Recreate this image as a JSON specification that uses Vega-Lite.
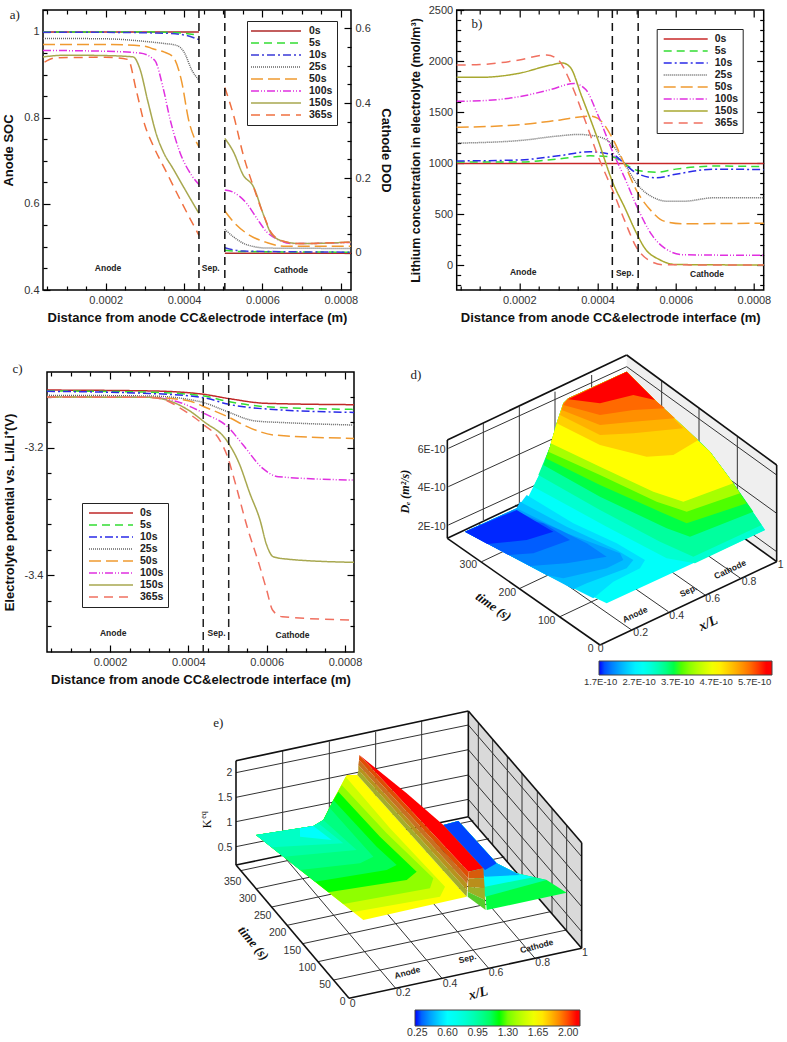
{"$schema":"https://vega.github.io/schema/vega-lite/v6.json","background":"white","padding":{"left":1,"top":3,"right":0,"bottom":0},"spacing":20,"resolve":{"scale":{"color":"independent","strokeDash":"independent","fill":"independent"},"legend":{"color":"independent","strokeDash":"independent","fill":"independent"}},
"config":{"view":{"stroke":null},"axis":{"domain":false,"grid":false,"labelFont":"Liberation Sans","labelFontSize":11,"labelColor":"#333","tickColor":"#000","tickWidth":1.2,"titleFont":"Liberation Sans","titleFontWeight":"bold","titleFontSize":13,"titleColor":"#111","labelPadding":11},"legend":{"labelFont":"Liberation Sans","labelFontWeight":"bold","labelFontSize":10.5,"labelColor":"#222"}},
"vconcat":[
{"resolve":{"scale":{"color":"independent","strokeDash":"independent"},"legend":{"color":"independent","strokeDash":"independent"}},"hconcat":[
{"width":308,"height":280,"view":{"stroke":"#000","strokeWidth":1.5},"resolve":{"scale":{"y":"independent","x":"independent"},"axis":{"x":"independent","y":"independent"}},"layer":[
{"data":{"values":[
{"s":"0s","x":40,"y":1},{"s":"0s","x":438,"y":1},
{"s":"5s","x":40,"y":1},{"s":"5s","x":300,"y":1},{"s":"5s","x":350,"y":0.999},{"s":"5s","x":400,"y":0.997},{"s":"5s","x":438,"y":0.992},
{"s":"10s","x":40,"y":0.999},{"s":"10s","x":200,"y":0.999},{"s":"10s","x":350,"y":0.997},{"s":"10s","x":400,"y":0.993},{"s":"10s","x":438,"y":0.982},
{"s":"25s","x":40,"y":0.985},{"s":"25s","x":200,"y":0.984},{"s":"25s","x":300,"y":0.978},{"s":"25s","x":350,"y":0.973},{"s":"25s","x":380,"y":0.969},{"s":"25s","x":400,"y":0.953},{"s":"25s","x":420,"y":0.911},{"s":"25s","x":438,"y":0.888},
{"s":"50s","x":40,"y":0.971},{"s":"50s","x":200,"y":0.971},{"s":"50s","x":300,"y":0.967},{"s":"50s","x":320,"y":0.961},{"s":"50s","x":350,"y":0.953},{"s":"50s","x":372,"y":0.942},{"s":"50s","x":394,"y":0.884},{"s":"50s","x":411,"y":0.798},{"s":"50s","x":438,"y":0.733},
{"s":"100s","x":40,"y":0.957},{"s":"100s","x":200,"y":0.955},{"s":"100s","x":287,"y":0.951},{"s":"100s","x":325,"y":0.934},{"s":"100s","x":347,"y":0.868},{"s":"100s","x":364,"y":0.798},{"s":"100s","x":389,"y":0.721},{"s":"100s","x":419,"y":0.667},{"s":"100s","x":438,"y":0.645},
{"s":"150s","x":40,"y":0.942},{"s":"150s","x":100,"y":0.946},{"s":"150s","x":200,"y":0.945},{"s":"150s","x":270,"y":0.942},{"s":"150s","x":287,"y":0.915},{"s":"150s","x":308,"y":0.837},{"s":"150s","x":330,"y":0.76},{"s":"150s","x":347,"y":0.721},{"s":"150s","x":372,"y":0.682},{"s":"150s","x":406,"y":0.628},{"s":"150s","x":438,"y":0.578},
{"s":"365s","x":44,"y":0.93},{"s":"365s","x":74,"y":0.94},{"s":"365s","x":200,"y":0.941},{"s":"365s","x":257,"y":0.936},{"s":"365s","x":278,"y":0.864},{"s":"365s","x":300,"y":0.783},{"s":"365s","x":321,"y":0.736},{"s":"365s","x":355,"y":0.674},{"s":"365s","x":389,"y":0.612},{"s":"365s","x":438,"y":0.527}
]},"mark":{"type":"line","strokeWidth":1.5,"interpolate":"monotone"},"encoding":{
"x":{"field":"x","type":"quantitative","scale":{"domain":[40,826],"nice":false},"axis":{"orient":"bottom","values":[200,400,600,800],"labelExpr":"format(datum.value/1000000,'.4f')","tickSize":-7,"title":"Distance from anode CC&electrode interface (m)","titlePadding":6}},
"y":{"field":"y","type":"quantitative","scale":{"domain":[0.4,1.051],"nice":false,"zero":false},"axis":{"orient":"left","values":[0.4,0.6,0.8,1],"format":"~g","tickSize":-7,"title":"Anode SOC","titlePadding":8}},
"color":{"field":"s","type":"nominal","scale":{"domain":["0s","5s","10s","25s","50s","100s","150s","365s"],"range":["#b02a2a","#33dd33","#3a3ad8","#666666","#f09a30","#e030e0","#a8a850","#f07040"]},"legend":{"orient":"none","legendX":204,"legendY":11,"title":null,"symbolType":"M-5,0H5","symbolSize":100,"symbolStrokeWidth":1.5,"symbolOffset":19,"fillColor":"white","strokeColor":"#222","padding":4,"rowPadding":0,"labelOffset":27}},
"strokeDash":{"field":"s","type":"nominal","scale":{"domain":["0s","5s","10s","25s","50s","100s","150s","365s"],"range":[[1,0],[8,5],[8,3,2,3],[1,1],[12,5],[8,2,1,2,1,2],[1,0],[9,6]]},"legend":{"orient":"none","legendX":204,"legendY":11,"title":null,"symbolType":"M-5,0H5","symbolSize":100,"symbolStrokeWidth":1.5,"symbolOffset":19,"fillColor":"white","strokeColor":"#222","padding":4,"rowPadding":0,"labelOffset":27}}}},
{"data":{"values":[
{"s":"0s","x":504,"y":-0.001},{"s":"0s","x":826,"y":-0.001},
{"s":"5s","x":504,"y":0.007},{"s":"5s","x":543,"y":0.004},{"s":"5s","x":826,"y":0.002},
{"s":"10s","x":504,"y":0.014},{"s":"10s","x":551,"y":0.005},{"s":"10s","x":826,"y":0.002},
{"s":"25s","x":504,"y":0.063},{"s":"25s","x":526,"y":0.043},{"s":"25s","x":560,"y":0.022},{"s":"25s","x":611,"y":0.013},{"s":"25s","x":826,"y":0.012},
{"s":"50s","x":504,"y":0.112},{"s":"50s","x":526,"y":0.083},{"s":"50s","x":560,"y":0.052},{"s":"50s","x":611,"y":0.028},{"s":"50s","x":654,"y":0.018},{"s":"50s","x":826,"y":0.018},
{"s":"100s","x":504,"y":0.168},{"s":"100s","x":526,"y":0.162},{"s":"100s","x":560,"y":0.132},{"s":"100s","x":586,"y":0.092},{"s":"100s","x":611,"y":0.056},{"s":"100s","x":637,"y":0.037},{"s":"100s","x":679,"y":0.025},{"s":"100s","x":826,"y":0.028},
{"s":"150s","x":504,"y":0.306},{"s":"150s","x":526,"y":0.27},{"s":"150s","x":551,"y":0.208},{"s":"150s","x":577,"y":0.177},{"s":"150s","x":603,"y":0.101},{"s":"150s","x":624,"y":0.049},{"s":"150s","x":654,"y":0.031},{"s":"150s","x":696,"y":0.025},{"s":"150s","x":826,"y":0.029},
{"s":"365s","x":504,"y":0.442},{"s":"365s","x":526,"y":0.369},{"s":"365s","x":551,"y":0.262},{"s":"365s","x":577,"y":0.177},{"s":"365s","x":603,"y":0.101},{"s":"365s","x":624,"y":0.052},{"s":"365s","x":654,"y":0.031},{"s":"365s","x":696,"y":0.025},{"s":"365s","x":826,"y":0.029}
]},"mark":{"type":"line","strokeWidth":1.5,"interpolate":"monotone"},"encoding":{
"x":{"field":"x","type":"quantitative","scale":{"domain":[40,826],"nice":false},"axis":{"orient":"top","labels":false,"title":null,"values":[200,400,600,800],"tickSize":-7}},
"y":{"field":"y","type":"quantitative","scale":{"domain":[-0.099,0.649],"nice":false,"zero":false},"axis":{"orient":"right","values":[0,0.2,0.4,0.6],"format":"~g","tickSize":-7,"title":"Cathode DOD","titlePadding":8}},
"color":{"field":"s","type":"nominal","legend":null},"strokeDash":{"field":"s","type":"nominal","legend":null}}},
{"data":{"values":[{"x":100,"y":0.5}]},"mark":{"type":"point","opacity":0},"encoding":{
"x":{"field":"x","type":"quantitative","scale":{"domain":[40,826],"nice":false},"axis":{"orient":"bottom","labels":false,"title":null,"values":[50,100,150,250,300,350,450,500,550,650,700,750],"tickSize":-4}},
"y":{"field":"y","type":"quantitative","scale":{"domain":[0.4,1.051],"nice":false,"zero":false},"axis":{"orient":"left","labels":false,"title":null,"values":[0.45,0.5,0.55,0.65,0.7,0.75,0.85,0.9,0.95,1.05],"tickSize":-4}}}},
{"data":{"values":[{"x":100,"y":0.1}]},"mark":{"type":"point","opacity":0},"encoding":{
"x":{"field":"x","type":"quantitative","scale":{"domain":[40,826],"nice":false},"axis":{"orient":"top","labels":false,"title":null,"values":[50,100,150,250,300,350,450,500,550,650,700,750],"tickSize":-4}},
"y":{"field":"y","type":"quantitative","scale":{"domain":[-0.099,0.649],"nice":false,"zero":false},"axis":{"orient":"right","labels":false,"title":null,"values":[-0.05,0.05,0.1,0.15,0.25,0.3,0.35,0.45,0.5,0.55],"tickSize":-4}}}},
{"data":{"values":[{"x":438},{"x":504}]},"mark":{"type":"rule","color":"#111","strokeDash":[8,5],"strokeWidth":1.5},"encoding":{"x":{"field":"x","type":"quantitative","axis":null,"scale":{"domain":[40,826],"nice":false}}}},
{"data":{"values":[{"x":206,"y":0.452,"t":"Anode"},{"x":468,"y":0.452,"t":"Sep."},{"x":673,"y":0.446,"t":"Cathode"}]},"mark":{"type":"text","font":"Liberation Sans","fontWeight":"bold","fontSize":8.5,"color":"#222"},"encoding":{"x":{"field":"x","type":"quantitative","axis":null,"scale":{"domain":[40,826],"nice":false}},"y":{"field":"y","type":"quantitative","axis":null,"scale":{"domain":[0.4,1.051],"nice":false,"zero":false}},"text":{"field":"t"}}},
{"data":{"values":[{"x":-32,"y":1.04,"t":"a)"}]},"mark":{"type":"text","font":"Liberation Serif","fontSize":13,"color":"#222"},"encoding":{"x":{"field":"x","type":"quantitative","axis":null,"scale":{"domain":[40,826],"nice":false}},"y":{"field":"y","type":"quantitative","axis":null,"scale":{"domain":[0.4,1.051],"nice":false,"zero":false}},"text":{"field":"t"}}},
{"data":{"values":[{"x":100,"y":0.3093}]},"mark":{"type":"point","opacity":0,"size":1},"encoding":{"x":{"field":"x","type":"quantitative","axis":null,"scale":{"domain":[40,826],"nice":false}},"y":{"field":"y","type":"quantitative","axis":null,"scale":{"domain":[0.4,1.051],"nice":false,"zero":false}}}}
]},
{"width":307,"height":280,"view":{"stroke":"#000","strokeWidth":1.5},"resolve":{"scale":{"y":"independent","x":"independent"},"axis":{"x":"independent","y":"independent"}},"layer":[
{"data":{"values":[
{"s":"0s","x":40,"y":995},{"s":"0s","x":825,"y":995},
{"s":"5s","x":40,"y":1010},{"s":"5s","x":200,"y":1010},{"s":"5s","x":300,"y":1040},{"s":"5s","x":380,"y":1070},{"s":"5s","x":440,"y":1060},{"s":"5s","x":470,"y":990},{"s":"5s","x":500,"y":930},{"s":"5s","x":550,"y":910},{"s":"5s","x":600,"y":940},{"s":"5s","x":700,"y":970},{"s":"5s","x":825,"y":965},
{"s":"10s","x":40,"y":1020},{"s":"10s","x":200,"y":1030},{"s":"10s","x":300,"y":1070},{"s":"10s","x":380,"y":1110},{"s":"10s","x":440,"y":1080},{"s":"10s","x":470,"y":990},{"s":"10s","x":500,"y":900},{"s":"10s","x":550,"y":855},{"s":"10s","x":600,"y":890},{"s":"10s","x":700,"y":940},{"s":"10s","x":825,"y":935},
{"s":"25s","x":40,"y":1195},{"s":"25s","x":200,"y":1220},{"s":"25s","x":300,"y":1265},{"s":"25s","x":350,"y":1280},{"s":"25s","x":400,"y":1260},{"s":"25s","x":440,"y":1170},{"s":"25s","x":470,"y":990},{"s":"25s","x":500,"y":800},{"s":"25s","x":550,"y":650},{"s":"25s","x":580,"y":625},{"s":"25s","x":620,"y":625},{"s":"25s","x":700,"y":660},{"s":"25s","x":825,"y":660},
{"s":"50s","x":40,"y":1350},{"s":"50s","x":200,"y":1375},{"s":"50s","x":300,"y":1420},{"s":"50s","x":380,"y":1460},{"s":"50s","x":400,"y":1440},{"s":"50s","x":440,"y":1230},{"s":"50s","x":470,"y":980},{"s":"50s","x":500,"y":730},{"s":"50s","x":540,"y":520},{"s":"50s","x":570,"y":430},{"s":"50s","x":620,"y":405},{"s":"50s","x":825,"y":410},
{"s":"100s","x":40,"y":1605},{"s":"100s","x":100,"y":1610},{"s":"100s","x":200,"y":1650},{"s":"100s","x":280,"y":1720},{"s":"100s","x":340,"y":1780},{"s":"100s","x":370,"y":1720},{"s":"100s","x":400,"y":1480},{"s":"100s","x":440,"y":1100},{"s":"100s","x":470,"y":850},{"s":"100s","x":500,"y":580},{"s":"100s","x":540,"y":290},{"s":"100s","x":570,"y":170},{"s":"100s","x":620,"y":100},{"s":"100s","x":825,"y":95},
{"s":"150s","x":40,"y":1840},{"s":"150s","x":100,"y":1840},{"s":"150s","x":200,"y":1880},{"s":"150s","x":280,"y":1960},{"s":"150s","x":310,"y":1980},{"s":"150s","x":330,"y":1940},{"s":"150s","x":360,"y":1650},{"s":"150s","x":400,"y":1240},{"s":"150s","x":440,"y":800},{"s":"150s","x":470,"y":560},{"s":"150s","x":500,"y":310},{"s":"150s","x":520,"y":170},{"s":"150s","x":560,"y":50},{"s":"150s","x":600,"y":5},{"s":"150s","x":825,"y":0},
{"s":"365s","x":40,"y":1960},{"s":"365s","x":100,"y":1965},{"s":"365s","x":200,"y":2010},{"s":"365s","x":270,"y":2060},{"s":"365s","x":300,"y":2010},{"s":"365s","x":330,"y":1800},{"s":"365s","x":370,"y":1400},{"s":"365s","x":400,"y":1080},{"s":"365s","x":440,"y":720},{"s":"365s","x":470,"y":430},{"s":"365s","x":500,"y":170},{"s":"365s","x":530,"y":50},{"s":"365s","x":570,"y":2},{"s":"365s","x":825,"y":0}
]},"mark":{"type":"line","strokeWidth":1.5,"interpolate":"monotone"},"encoding":{
"x":{"field":"x","type":"quantitative","scale":{"domain":[40,825],"nice":false},"axis":{"orient":"bottom","values":[200,400,600,800],"labelExpr":"format(datum.value/1000000,'.4f')","tickSize":-7,"title":"Distance from anode CC&electrode interface (m)","titlePadding":6}},
"y":{"field":"y","type":"quantitative","scale":{"domain":[-245,2500],"nice":false,"zero":false},"axis":{"orient":"left","values":[0,500,1000,1500,2000,2500],"format":"d","tickSize":-7,"title":"Lithium concentration in electrolyte (mol/m³)","titleFontSize":12.5,"titlePadding":6}},
"color":{"field":"s","type":"nominal","scale":{"domain":["0s","5s","10s","25s","50s","100s","150s","365s"],"range":["#c82828","#33dd33","#2a2ae8","#666666","#f09a30","#e030e0","#a8a830","#f07060"]},"legend":{"orient":"none","legendX":200,"legendY":19,"title":null,"symbolType":"M-4.4,0H4.4","symbolSize":100,"symbolStrokeWidth":1.5,"symbolOffset":19,"fillColor":"white","strokeColor":"#222","padding":4,"rowPadding":0,"labelOffset":23}},
"strokeDash":{"field":"s","type":"nominal","scale":{"domain":["0s","5s","10s","25s","50s","100s","150s","365s"],"range":[[1,0],[8,5],[8,3,2,3],[1,1],[12,5],[8,2,1,2,1,2],[1,0],[9,6]]},"legend":{"orient":"none","legendX":200,"legendY":19,"title":null,"symbolType":"M-4.4,0H4.4","symbolSize":100,"symbolStrokeWidth":1.5,"symbolOffset":19,"fillColor":"white","strokeColor":"#222","padding":4,"rowPadding":0,"labelOffset":23}}}},
{"data":{"values":[{"x":100,"y":100}]},"mark":{"type":"point","opacity":0},"encoding":{
"x":{"field":"x","type":"quantitative","scale":{"domain":[40,825],"nice":false},"axis":{"orient":"top","labels":false,"title":null,"values":[200,400,600,800],"tickSize":-7}},
"y":{"field":"y","type":"quantitative","scale":{"domain":[-245,2500],"nice":false,"zero":false},"axis":{"orient":"right","labels":false,"title":null,"values":[0,500,1000,1500,2000],"tickSize":-7}}}},
{"data":{"values":[{"x":100,"y":100}]},"mark":{"type":"point","opacity":0},"encoding":{
"x":{"field":"x","type":"quantitative","scale":{"domain":[40,825],"nice":false},"axis":{"orient":"bottom","labels":false,"title":null,"values":[50,100,150,250,300,350,450,500,550,650,700,750],"tickSize":-4}},
"y":{"field":"y","type":"quantitative","scale":{"domain":[-245,2500],"nice":false,"zero":false},"axis":{"orient":"left","labels":false,"title":null,"values":[-200,-100,100,200,300,400,600,700,800,900,1100,1200,1300,1400,1600,1700,1800,1900,2100,2200,2300,2400],"tickSize":-4}}}},
{"data":{"values":[{"x":100,"y":100}]},"mark":{"type":"point","opacity":0},"encoding":{
"x":{"field":"x","type":"quantitative","scale":{"domain":[40,825],"nice":false},"axis":{"orient":"top","labels":false,"title":null,"values":[50,100,150,250,300,350,450,500,550,650,700,750],"tickSize":-4}},
"y":{"field":"y","type":"quantitative","scale":{"domain":[-245,2500],"nice":false,"zero":false},"axis":{"orient":"right","labels":false,"title":null,"values":[-200,-100,100,200,300,400,600,700,800,900,1100,1200,1300,1400,1600,1700,1800,1900,2100,2200,2300,2400],"tickSize":-4}}}},
{"data":{"values":[{"x":438},{"x":504}]},"mark":{"type":"rule","color":"#111","strokeDash":[8,5],"strokeWidth":1.5},"encoding":{"x":{"field":"x","type":"quantitative","axis":null,"scale":{"domain":[40,825],"nice":false}}}},
{"data":{"values":[{"x":210,"y":-70,"t":"Anode"},{"x":470,"y":-80,"t":"Sep."},{"x":680,"y":-90,"t":"Cathode"}]},"mark":{"type":"text","font":"Liberation Sans","fontWeight":"bold","fontSize":8.5,"color":"#222"},"encoding":{"x":{"field":"x","type":"quantitative","axis":null,"scale":{"domain":[40,825],"nice":false}},"y":{"field":"y","type":"quantitative","axis":null,"scale":{"domain":[-245,2500],"nice":false,"zero":false}},"text":{"field":"t"}}},
{"data":{"values":[{"x":92,"y":2365,"t":"b)"}]},"mark":{"type":"text","font":"Liberation Serif","fontSize":13,"color":"#222"},"encoding":{"x":{"field":"x","type":"quantitative","axis":null,"scale":{"domain":[40,825],"nice":false}},"y":{"field":"y","type":"quantitative","axis":null,"scale":{"domain":[-245,2500],"nice":false,"zero":false}},"text":{"field":"t"}}}
]}
],"bounds":"flush","spacing":105.7},
{"resolve":{"scale":{"color":"independent","strokeDash":"independent","fill":"independent"},"legend":{"color":"independent","strokeDash":"independent","fill":"independent"}},"hconcat":[
{"width":4,"height":280,"data":{"values":[{"a":1}]},"mark":{"type":"point","opacity":0}},
{"resolve":{"scale":{"color":"independent","strokeDash":"independent","fill":"independent"},"legend":{"color":"independent","strokeDash":"independent","fill":"independent"}},"hconcat":[
{"width":307,"height":280,"view":{"stroke":"#000","strokeWidth":1.5},"resolve":{"scale":{"y":"independent","x":"independent"},"axis":{"x":"independent","y":"independent"}},"layer":[
{"data":{"values":[
{"s":"0s","x":39,"y":-3.1097},{"s":"0s","x":300,"y":-3.111},{"s":"0s","x":440,"y":-3.1164},{"s":"0s","x":500,"y":-3.1227},{"s":"0s","x":600,"y":-3.1305},{"s":"0s","x":823,"y":-3.1326},
{"s":"5s","x":39,"y":-3.111},{"s":"5s","x":300,"y":-3.113},{"s":"5s","x":440,"y":-3.119},{"s":"5s","x":500,"y":-3.1274},{"s":"5s","x":600,"y":-3.1358},{"s":"5s","x":823,"y":-3.14},
{"s":"10s","x":39,"y":-3.1117},{"s":"10s","x":300,"y":-3.115},{"s":"10s","x":440,"y":-3.1217},{"s":"10s","x":500,"y":-3.1316},{"s":"10s","x":600,"y":-3.1394},{"s":"10s","x":823,"y":-3.1447},
{"s":"25s","x":39,"y":-3.118},{"s":"25s","x":300,"y":-3.119},{"s":"25s","x":400,"y":-3.1243},{"s":"25s","x":440,"y":-3.1295},{"s":"25s","x":500,"y":-3.1436},{"s":"25s","x":570,"y":-3.158},{"s":"25s","x":650,"y":-3.1608},{"s":"25s","x":823,"y":-3.1645},
{"s":"50s","x":39,"y":-3.1206},{"s":"50s","x":300,"y":-3.1211},{"s":"50s","x":400,"y":-3.1264},{"s":"50s","x":440,"y":-3.1358},{"s":"50s","x":500,"y":-3.1514},{"s":"50s","x":560,"y":-3.1697},{"s":"50s","x":620,"y":-3.1802},{"s":"50s","x":823,"y":-3.1854},
{"s":"100s","x":39,"y":-3.1206},{"s":"100s","x":300,"y":-3.1211},{"s":"100s","x":380,"y":-3.1295},{"s":"100s","x":440,"y":-3.1462},{"s":"100s","x":500,"y":-3.1671},{"s":"100s","x":540,"y":-3.1958},{"s":"100s","x":590,"y":-3.2324},{"s":"100s","x":630,"y":-3.2454},{"s":"100s","x":823,"y":-3.2507},
{"s":"150s","x":39,"y":-3.1206},{"s":"150s","x":300,"y":-3.1211},{"s":"150s","x":350,"y":-3.1264},{"s":"150s","x":400,"y":-3.141},{"s":"150s","x":440,"y":-3.1593},{"s":"150s","x":500,"y":-3.1906},{"s":"150s","x":530,"y":-3.225},{"s":"150s","x":557,"y":-3.2715},{"s":"150s","x":583,"y":-3.3133},{"s":"150s","x":600,"y":-3.3525},{"s":"150s","x":617,"y":-3.3708},{"s":"150s","x":650,"y":-3.3744},{"s":"150s","x":823,"y":-3.3796},
{"s":"365s","x":39,"y":-3.1206},{"s":"365s","x":300,"y":-3.1211},{"s":"365s","x":340,"y":-3.125},{"s":"365s","x":380,"y":-3.1384},{"s":"365s","x":440,"y":-3.1645},{"s":"365s","x":480,"y":-3.188},{"s":"365s","x":500,"y":-3.2141},{"s":"365s","x":520,"y":-3.2559},{"s":"365s","x":550,"y":-3.3238},{"s":"365s","x":580,"y":-3.3812},{"s":"365s","x":600,"y":-3.423},{"s":"365s","x":615,"y":-3.4543},{"s":"365s","x":640,"y":-3.4648},{"s":"365s","x":823,"y":-3.47}
]},"mark":{"type":"line","strokeWidth":1.5,"interpolate":"monotone"},"encoding":{
"x":{"field":"x","type":"quantitative","scale":{"domain":[39,823],"nice":false},"axis":{"orient":"bottom","values":[200,400,600,800],"labelExpr":"format(datum.value/1000000,'.4f')","tickSize":-7,"title":"Distance from anode CC&electrode interface (m)","titlePadding":6}},
"y":{"field":"y","type":"quantitative","scale":{"domain":[-3.52,-3.0814],"nice":false,"zero":false},"axis":{"orient":"left","values":[-3.4,-3.2],"labelExpr":"replace(format(datum.value,'.1f'),'−','-')","tickSize":-7,"title":"Electrolyte potential vs. Li/Li⁺(V)","titlePadding":8}},
"color":{"field":"s","type":"nominal","scale":{"domain":["0s","5s","10s","25s","50s","100s","150s","365s"],"range":["#c02828","#33dd33","#2a2ae8","#666666","#f09a30","#e030e0","#a8a850","#f07060"]},"legend":{"orient":"none","legendX":35,"legendY":131,"title":null,"symbolType":"M-4.4,0H4.4","symbolSize":100,"symbolStrokeWidth":1.5,"symbolOffset":19,"fillColor":"white","strokeColor":"#222","padding":4,"rowPadding":0,"labelOffset":23}},
"strokeDash":{"field":"s","type":"nominal","scale":{"domain":["0s","5s","10s","25s","50s","100s","150s","365s"],"range":[[1,0],[8,5],[8,3,2,3],[1,1],[12,5],[8,2,1,2,1,2],[1,0],[9,6]]},"legend":{"orient":"none","legendX":35,"legendY":131,"title":null,"symbolType":"M-4.4,0H4.4","symbolSize":100,"symbolStrokeWidth":1.5,"symbolOffset":19,"fillColor":"white","strokeColor":"#222","padding":4,"rowPadding":0,"labelOffset":23}}}},
{"data":{"values":[{"x":100,"y":-3.3}]},"mark":{"type":"point","opacity":0},"encoding":{
"x":{"field":"x","type":"quantitative","scale":{"domain":[39,823],"nice":false},"axis":{"orient":"top","labels":false,"title":null,"values":[200,400,600,800],"tickSize":-7}},
"y":{"field":"y","type":"quantitative","scale":{"domain":[-3.52,-3.0814],"nice":false,"zero":false},"axis":{"orient":"right","labels":false,"title":null,"values":[-3.4,-3.2],"tickSize":-7}}}},
{"data":{"values":[{"x":100,"y":-3.3}]},"mark":{"type":"point","opacity":0},"encoding":{
"x":{"field":"x","type":"quantitative","scale":{"domain":[39,823],"nice":false},"axis":{"orient":"bottom","labels":false,"title":null,"values":[50,100,150,250,300,350,450,500,550,650,700,750],"tickSize":-4}},
"y":{"field":"y","type":"quantitative","scale":{"domain":[-3.52,-3.0814],"nice":false,"zero":false},"axis":{"orient":"left","labels":false,"title":null,"values":[-3.48,-3.44,-3.36,-3.32,-3.28,-3.24,-3.16,-3.12],"tickSize":-4}}}},
{"data":{"values":[{"x":100,"y":-3.3}]},"mark":{"type":"point","opacity":0},"encoding":{
"x":{"field":"x","type":"quantitative","scale":{"domain":[39,823],"nice":false},"axis":{"orient":"top","labels":false,"title":null,"values":[50,100,150,250,300,350,450,500,550,650,700,750],"tickSize":-4}},
"y":{"field":"y","type":"quantitative","scale":{"domain":[-3.52,-3.0814],"nice":false,"zero":false},"axis":{"orient":"right","labels":false,"title":null,"values":[-3.48,-3.44,-3.36,-3.32,-3.28,-3.24,-3.16,-3.12],"tickSize":-4}}}},
{"data":{"values":[{"x":438},{"x":503}]},"mark":{"type":"rule","color":"#222","strokeDash":[8,5],"strokeWidth":1.5},"encoding":{"x":{"field":"x","type":"quantitative","axis":null,"scale":{"domain":[39,823],"nice":false}}}},
{"data":{"values":[{"x":208,"y":-3.49,"t":"Anode"},{"x":472,"y":-3.491,"t":"Sep."},{"x":666,"y":-3.493,"t":"Cathode"}]},"mark":{"type":"text","font":"Liberation Sans","fontWeight":"bold","fontSize":8.5,"color":"#222"},"encoding":{"x":{"field":"x","type":"quantitative","axis":null,"scale":{"domain":[39,823],"nice":false}},"y":{"field":"y","type":"quantitative","axis":null,"scale":{"domain":[-3.52,-3.0814],"nice":false,"zero":false}},"text":{"field":"t"}}},
{"data":{"values":[{"x":-36,"y":-3.0765,"t":"c)"}]},"mark":{"type":"text","font":"Liberation Serif","fontSize":13,"color":"#222"},"encoding":{"x":{"field":"x","type":"quantitative","axis":null,"scale":{"domain":[39,823],"nice":false}},"y":{"field":"y","type":"quantitative","axis":null,"scale":{"domain":[-3.52,-3.0814],"nice":false,"zero":false}},"text":{"field":"t"}}}
]},
{"width":387,"height":280,"encoding":{"x":{"field":"u","type":"quantitative","axis":null,"scale":{"domain":[0,1161],"nice":false,"zero":false}},"y":{"field":"v","type":"quantitative","axis":null,"scale":{"domain":[876,36],"nice":false,"zero":false}}},"layer":[
{"data":{"values":[{"i":0,"u":680,"v":-15},{"i":1,"u":1130,"v":315},{"i":2,"u":1130,"v":605},{"i":3,"u":680,"v":280}]},"mark":{"type":"line","fill":"#efefef","strokeWidth":0},"encoding":{"order":{"field":"i"}}},
{"data":{"values":[
{"s":1,"u":250,"v":190},{"s":1,"u":250,"v":480},{"s":2,"u":358,"v":140},{"s":2,"u":358,"v":430},{"s":3,"u":465,"v":95},{"s":3,"u":465,"v":380},{"s":4,"u":575,"v":45},{"s":4,"u":575,"v":330},
{"s":5,"u":785,"v":62},{"s":5,"u":785,"v":360},{"s":6,"u":897,"v":145},{"s":6,"u":897,"v":440},{"s":7,"u":1012,"v":230},{"s":7,"u":1012,"v":520},
{"s":8,"u":145,"v":265},{"s":8,"u":680,"v":20},{"s":9,"u":145,"v":380},{"s":9,"u":680,"v":135},{"s":10,"u":145,"v":495},{"s":10,"u":680,"v":250},
{"s":11,"u":680,"v":20},{"s":11,"u":1130,"v":345},{"s":12,"u":680,"v":135},{"s":12,"u":1130,"v":460},{"s":13,"u":680,"v":250},{"s":13,"u":1130,"v":575},
{"s":14,"u":480,"v":770},{"s":14,"u":1010,"v":520},{"s":15,"u":360,"v":685},{"s":15,"u":890,"v":435},{"s":16,"u":245,"v":605},{"s":16,"u":775,"v":355},
{"s":17,"u":695,"v":810},{"s":17,"u":235,"v":490},{"s":18,"u":805,"v":755},{"s":18,"u":345,"v":435},{"s":19,"u":915,"v":705},{"s":19,"u":455,"v":385},{"s":20,"u":1022,"v":655},{"s":20,"u":562,"v":335}
]},"mark":{"type":"line","color":"#333","strokeWidth":1},"encoding":{"detail":{"field":"s"}}},
{"data":{"values":[
{"s":1,"u":142,"v":240},{"s":1,"u":680,"v":-15},{"s":2,"u":680,"v":-15},{"s":2,"u":1130,"v":315},{"s":3,"u":1130,"v":315},{"s":3,"u":1130,"v":605},{"s":4,"u":142,"v":240},{"s":4,"u":142,"v":535},{"s":5,"u":142,"v":535},{"s":5,"u":600,"v":855},{"s":6,"u":600,"v":855},{"s":6,"u":1130,"v":605},{"s":7,"u":142,"v":535},{"s":7,"u":680,"v":280},{"s":8,"u":1130,"v":605},{"s":8,"u":680,"v":280}
]},"mark":{"type":"line","color":"#111","strokeWidth":1.6},"encoding":{"detail":{"field":"s"}}},
{"data":{"values":[
{"p":"O","i":0,"z":2.75,"u":195,"v":515},{"p":"O","i":1,"z":2.75,"u":350,"v":445},{"p":"O","i":2,"z":2.75,"u":385,"v":410},{"p":"O","i":3,"z":2.75,"u":420,"v":340},{"p":"O","i":4,"z":2.75,"u":450,"v":260},{"p":"O","i":5,"z":2.75,"u":470,"v":190},{"p":"O","i":6,"z":2.75,"u":490,"v":130},{"p":"O","i":7,"z":2.75,"u":505,"v":115},{"p":"O","i":8,"z":2.75,"u":680,"v":35},{"p":"O","i":9,"z":2.75,"u":770,"v":125},{"p":"O","i":10,"z":2.75,"u":895,"v":240},{"p":"O","i":11,"z":2.75,"u":930,"v":275},{"p":"O","i":12,"z":2.75,"u":1000,"v":370},{"p":"O","i":13,"z":2.75,"u":1095,"v":510},{"p":"O","i":14,"z":2.75,"u":620,"v":730},{"p":"O","i":15,"z":2.75,"u":430,"v":640},
{"p":"H1","i":0,"z":3.05,"u":400,"v":380},{"p":"H1","i":1,"z":3.05,"u":620,"v":500},{"p":"H1","i":2,"z":3.05,"u":800,"v":595},{"p":"H1","i":3,"z":3.05,"u":885,"v":610},{"p":"H1","i":4,"z":3.05,"u":1095,"v":510},{"p":"H1","i":5,"z":3.05,"u":1000,"v":370},{"p":"H1","i":6,"z":3.05,"u":930,"v":275},{"p":"H1","i":7,"z":3.05,"u":770,"v":125},{"p":"H1","i":8,"z":3.05,"u":680,"v":35},{"p":"H1","i":9,"z":3.05,"u":505,"v":115},{"p":"H1","i":10,"z":3.05,"u":490,"v":130},{"p":"H1","i":11,"z":3.05,"u":470,"v":190},{"p":"H1","i":12,"z":3.05,"u":450,"v":260},{"p":"H1","i":13,"z":3.05,"u":420,"v":340},
{"p":"H2","i":0,"z":3.3,"u":415,"v":345},{"p":"H2","i":1,"z":3.3,"u":600,"v":450},{"p":"H2","i":2,"z":3.3,"u":780,"v":545},{"p":"H2","i":3,"z":3.3,"u":880,"v":590},{"p":"H2","i":4,"z":3.3,"u":1085,"v":495},{"p":"H2","i":5,"z":3.3,"u":1000,"v":370},{"p":"H2","i":6,"z":3.3,"u":930,"v":275},{"p":"H2","i":7,"z":3.3,"u":770,"v":125},{"p":"H2","i":8,"z":3.3,"u":680,"v":35},{"p":"H2","i":9,"z":3.3,"u":505,"v":115},{"p":"H2","i":10,"z":3.3,"u":490,"v":130},{"p":"H2","i":11,"z":3.3,"u":470,"v":190},{"p":"H2","i":12,"z":3.3,"u":450,"v":260},
{"p":"H3","i":0,"z":3.6,"u":430,"v":315},{"p":"H3","i":1,"z":3.6,"u":600,"v":410},{"p":"H3","i":2,"z":3.6,"u":800,"v":505},{"p":"H3","i":3,"z":3.6,"u":870,"v":530},{"p":"H3","i":4,"z":3.6,"u":1060,"v":455},{"p":"H3","i":5,"z":3.6,"u":1000,"v":370},{"p":"H3","i":6,"z":3.6,"u":930,"v":275},{"p":"H3","i":7,"z":3.6,"u":770,"v":125},{"p":"H3","i":8,"z":3.6,"u":680,"v":35},{"p":"H3","i":9,"z":3.6,"u":505,"v":115},{"p":"H3","i":10,"z":3.6,"u":490,"v":130},{"p":"H3","i":11,"z":3.6,"u":470,"v":190},{"p":"H3","i":12,"z":3.6,"u":450,"v":260},
{"p":"H4","i":0,"z":3.8,"u":437,"v":295},{"p":"H4","i":1,"z":3.8,"u":600,"v":375},{"p":"H4","i":2,"z":3.8,"u":780,"v":455},{"p":"H4","i":3,"z":3.8,"u":860,"v":490},{"p":"H4","i":4,"z":3.8,"u":1040,"v":430},{"p":"H4","i":5,"z":3.8,"u":1000,"v":370},{"p":"H4","i":6,"z":3.8,"u":930,"v":275},{"p":"H4","i":7,"z":3.8,"u":770,"v":125},{"p":"H4","i":8,"z":3.8,"u":680,"v":35},{"p":"H4","i":9,"z":3.8,"u":505,"v":115},{"p":"H4","i":10,"z":3.8,"u":490,"v":130},{"p":"H4","i":11,"z":3.8,"u":470,"v":190},{"p":"H4","i":12,"z":3.8,"u":450,"v":260},
{"p":"H5","i":0,"z":4.15,"u":445,"v":275},{"p":"H5","i":1,"z":4.15,"u":600,"v":345},{"p":"H5","i":2,"z":4.15,"u":770,"v":425},{"p":"H5","i":3,"z":4.15,"u":860,"v":455},{"p":"H5","i":4,"z":4.15,"u":1020,"v":400},{"p":"H5","i":5,"z":4.15,"u":1000,"v":370},{"p":"H5","i":6,"z":4.15,"u":930,"v":275},{"p":"H5","i":7,"z":4.15,"u":770,"v":125},{"p":"H5","i":8,"z":4.15,"u":680,"v":35},{"p":"H5","i":9,"z":4.15,"u":505,"v":115},{"p":"H5","i":10,"z":4.15,"u":490,"v":130},{"p":"H5","i":11,"z":4.15,"u":470,"v":190},{"p":"H5","i":12,"z":4.15,"u":450,"v":260},
{"p":"H6","i":0,"z":4.7,"u":452,"v":250},{"p":"H6","i":1,"z":4.7,"u":600,"v":320},{"p":"H6","i":2,"z":4.7,"u":760,"v":395},{"p":"H6","i":3,"z":4.7,"u":850,"v":425},{"p":"H6","i":4,"z":4.7,"u":1000,"v":370},{"p":"H6","i":5,"z":4.7,"u":930,"v":275},{"p":"H6","i":6,"z":4.7,"u":770,"v":125},{"p":"H6","i":7,"z":4.7,"u":680,"v":35},{"p":"H6","i":8,"z":4.7,"u":505,"v":115},{"p":"H6","i":9,"z":4.7,"u":490,"v":130},{"p":"H6","i":10,"z":4.7,"u":470,"v":190},
{"p":"H7","i":0,"z":5.0,"u":470,"v":190},{"p":"H7","i":1,"z":5.0,"u":600,"v":255},{"p":"H7","i":2,"z":5.0,"u":740,"v":290},{"p":"H7","i":3,"z":5.0,"u":820,"v":285},{"p":"H7","i":4,"z":5.0,"u":895,"v":240},{"p":"H7","i":5,"z":5.0,"u":770,"v":125},{"p":"H7","i":6,"z":5.0,"u":680,"v":35},{"p":"H7","i":7,"z":5.0,"u":505,"v":115},{"p":"H7","i":8,"z":5.0,"u":490,"v":130},
{"p":"H8","i":0,"z":5.2,"u":480,"v":165},{"p":"H8","i":1,"z":5.2,"u":600,"v":225},{"p":"H8","i":2,"z":5.2,"u":700,"v":220},{"p":"H8","i":3,"z":5.2,"u":850,"v":205},{"p":"H8","i":4,"z":5.2,"u":770,"v":125},{"p":"H8","i":5,"z":5.2,"u":680,"v":35},{"p":"H8","i":6,"z":5.2,"u":505,"v":115},{"p":"H8","i":7,"z":5.2,"u":490,"v":130},
{"p":"H9","i":0,"z":5.4,"u":485,"v":150},{"p":"H9","i":1,"z":5.4,"u":600,"v":195},{"p":"H9","i":2,"z":5.4,"u":700,"v":185},{"p":"H9","i":3,"z":5.4,"u":825,"v":175},{"p":"H9","i":4,"z":5.4,"u":770,"v":125},{"p":"H9","i":5,"z":5.4,"u":680,"v":35},{"p":"H9","i":6,"z":5.4,"u":505,"v":115},{"p":"H9","i":7,"z":5.4,"u":490,"v":130},
{"p":"H10","i":0,"z":5.6,"u":490,"v":135},{"p":"H10","i":1,"z":5.6,"u":600,"v":165},{"p":"H10","i":2,"z":5.6,"u":700,"v":150},{"p":"H10","i":3,"z":5.6,"u":795,"v":145},{"p":"H10","i":4,"z":5.6,"u":770,"v":125},{"p":"H10","i":5,"z":5.6,"u":680,"v":35},{"p":"H10","i":6,"z":5.6,"u":505,"v":115},
{"p":"H11","i":0,"z":5.95,"u":505,"v":118},{"p":"H11","i":1,"z":5.95,"u":600,"v":130},{"p":"H11","i":2,"z":5.95,"u":700,"v":105},{"p":"H11","i":3,"z":5.95,"u":765,"v":120},{"p":"H11","i":4,"z":5.95,"u":680,"v":35},
{"p":"L1","i":0,"z":2.5,"u":195,"v":515},{"p":"L1","i":1,"z":2.5,"u":350,"v":445},{"p":"L1","i":2,"z":2.5,"u":380,"v":405},{"p":"L1","i":3,"z":2.5,"u":520,"v":490},{"p":"L1","i":4,"z":2.5,"u":650,"v":550},{"p":"L1","i":5,"z":2.5,"u":735,"v":600},{"p":"L1","i":6,"z":2.5,"u":720,"v":625},{"p":"L1","i":7,"z":2.5,"u":640,"v":665},{"p":"L1","i":8,"z":2.5,"u":580,"v":715},{"p":"L1","i":9,"z":2.5,"u":430,"v":640},
{"p":"L2","i":0,"z":2.3,"u":195,"v":515},{"p":"L2","i":1,"z":2.3,"u":350,"v":445},{"p":"L2","i":2,"z":2.3,"u":360,"v":425},{"p":"L2","i":3,"z":2.3,"u":500,"v":500},{"p":"L2","i":4,"z":2.3,"u":650,"v":570},{"p":"L2","i":5,"z":2.3,"u":700,"v":600},{"p":"L2","i":6,"z":2.3,"u":680,"v":625},{"p":"L2","i":7,"z":2.3,"u":560,"v":670},{"p":"L2","i":8,"z":2.3,"u":520,"v":688},{"p":"L2","i":9,"z":2.3,"u":430,"v":640},
{"p":"L3","i":0,"z":2.15,"u":195,"v":515},{"p":"L3","i":1,"z":2.15,"u":350,"v":445},{"p":"L3","i":2,"z":2.15,"u":500,"v":520},{"p":"L3","i":3,"z":2.15,"u":660,"v":580},{"p":"L3","i":4,"z":2.15,"u":670,"v":600},{"p":"L3","i":5,"z":2.15,"u":620,"v":625},{"p":"L3","i":6,"z":2.15,"u":490,"v":655},{"p":"L3","i":7,"z":2.15,"u":440,"v":645},
{"p":"L4","i":0,"z":2.0,"u":195,"v":515},{"p":"L4","i":1,"z":2.0,"u":340,"v":450},{"p":"L4","i":2,"z":2.0,"u":480,"v":510},{"p":"L4","i":3,"z":2.0,"u":560,"v":550},{"p":"L4","i":4,"z":2.0,"u":620,"v":590},{"p":"L4","i":5,"z":2.0,"u":500,"v":610},{"p":"L4","i":6,"z":2.0,"u":390,"v":618},
{"p":"L5","i":0,"z":1.85,"u":195,"v":515},{"p":"L5","i":1,"z":1.85,"u":310,"v":465},{"p":"L5","i":2,"z":1.85,"u":430,"v":490},{"p":"L5","i":3,"z":1.85,"u":510,"v":540},{"p":"L5","i":4,"z":1.85,"u":400,"v":580},{"p":"L5","i":5,"z":1.85,"u":325,"v":585},
{"p":"L6","i":0,"z":1.7,"u":195,"v":515},{"p":"L6","i":1,"z":1.7,"u":350,"v":450},{"p":"L6","i":2,"z":1.7,"u":400,"v":480},{"p":"L6","i":3,"z":1.7,"u":460,"v":515},{"p":"L6","i":4,"z":1.7,"u":380,"v":540},{"p":"L6","i":5,"z":1.7,"u":262,"v":552}
]},"mark":{"type":"line","strokeWidth":0},"encoding":{"order":{"field":"i"},"detail":{"field":"p"},"fill":{"field":"z","type":"quantitative","scale":{"domain":[1.66,2.7,3.7,4.7,5.9,6.15],"range":["#0000ff","#00ffff","#00ff00","#ffff00","#ff0000","#ff0000"]},"legend":{"type":"gradient","direction":"horizontal","orient":"none","legendX":199,"legendY":289,"title":null,"gradientLength":173,"gradientThickness":14,"gradientStrokeColor":"#444","gradientStrokeWidth":1,"values":[1.7,2.7,3.7,4.7,5.7],"labelExpr":"format(datum.value,'.1f')+'E-10'","labelFontWeight":"normal","labelFontSize":9.5,"labelColor":"#333","padding":0}}}},
{"data":{"values":[{"u":95,"v":270,"t":"6E-10"},{"u":95,"v":385,"t":"4E-10"},{"u":95,"v":500,"t":"2E-10"},{"u":572,"v":868,"t":"0"},{"u":602,"v":868,"t":"0"},{"u":440,"v":783,"t":"100"},{"u":322,"v":700,"t":"200"},{"u":205,"v":615,"t":"300"},{"u":722,"v":818,"t":"0.2"},{"u":830,"v":767,"t":"0.4"},{"u":938,"v":717,"t":"0.6"},{"u":1047,"v":665,"t":"0.8"},{"u":1142,"v":615,"t":"1"}]},"mark":{"type":"text","font":"Liberation Sans","fontSize":10.5,"color":"#333"},"encoding":{"text":{"field":"t"}}},
{"data":{"values":[{"u":705,"v":763,"t":"Anode"},{"u":865,"v":692,"t":"Sep."},{"u":990,"v":628,"t":"Cathode"}]},"mark":{"type":"text","font":"Liberation Sans","fontWeight":"bold","fontSize":8.5,"color":"#222","angle":335},"encoding":{"text":{"field":"t"}}},
{"data":{"values":[{"u":280,"v":740,"t":"time (s)"}]},"mark":{"type":"text","font":"Liberation Serif","fontWeight":"bold","fontStyle":"italic","fontSize":13,"color":"#111","angle":35},"encoding":{"text":{"field":"t"}}},
{"data":{"values":[{"u":925,"v":790,"t":"x/L"}]},"mark":{"type":"text","font":"Liberation Serif","fontWeight":"bold","fontStyle":"italic","fontSize":14,"color":"#111","angle":335},"encoding":{"text":{"field":"t"}}},
{"data":{"values":[{"u":15,"v":395,"t":"Dₑ (m²/s)"}]},"mark":{"type":"text","font":"Liberation Serif","fontWeight":"bold","fontStyle":"italic","fontSize":12,"color":"#111","angle":270},"encoding":{"text":{"field":"t"}}},
{"data":{"values":[{"u":48,"v":45,"t":"d)"}]},"mark":{"type":"text","font":"Liberation Serif","fontSize":13,"color":"#222"},"encoding":{"text":{"field":"t"}}}
]}
],"bounds":"flush","spacing":46}
],"bounds":"flush","spacing":0},
{"resolve":{"scale":{"fill":"independent"},"legend":{"fill":"independent"}},"hconcat":[
{"width":157,"height":307,"data":{"values":[{"a":1}]},"mark":{"type":"point","opacity":0}},
{"width":420,"height":307,"resolve":{"scale":{"fill":"independent"}},"encoding":{"x":{"field":"u","type":"quantitative","axis":null,"scale":{"domain":[0,1260],"nice":false,"zero":false}},"y":{"field":"v","type":"quantitative","axis":null,"scale":{"domain":[1026,105],"nice":false,"zero":false}}},"layer":[
{"data":{"values":[{"i":0,"u":805,"v":33},{"i":1,"u":1145,"v":428},{"i":2,"u":1145,"v":745},{"i":3,"u":805,"v":350}]},"mark":{"type":"line","fill":"#d9d9d9","strokeWidth":0},"encoding":{"order":{"field":"i"}}},
{"data":{"values":[
{"s":1,"u":248,"v":153},{"s":1,"u":248,"v":465},{"s":2,"u":388,"v":125},{"s":2,"u":388,"v":436},{"s":3,"u":527,"v":96},{"s":3,"u":527,"v":407},{"s":4,"u":665,"v":62},{"s":4,"u":665,"v":378},
{"s":5,"u":108,"v":218},{"s":5,"u":805,"v":75},{"s":6,"u":108,"v":292},{"s":6,"u":805,"v":149},{"s":7,"u":108,"v":365},{"s":7,"u":805,"v":225},{"s":8,"u":108,"v":440},{"s":8,"u":805,"v":298},
{"s":9,"u":805,"v":75},{"s":9,"u":1145,"v":470},{"s":10,"u":805,"v":149},{"s":10,"u":1145,"v":545},{"s":11,"u":805,"v":225},{"s":11,"u":1145,"v":620},{"s":12,"u":805,"v":298},{"s":12,"u":1145,"v":695},
{"s":13,"u":835,"v":68},{"s":13,"u":835,"v":385},{"s":14,"u":878,"v":118},{"s":14,"u":878,"v":435},{"s":15,"u":922,"v":169},{"s":15,"u":922,"v":486},{"s":16,"u":966,"v":220},{"s":16,"u":966,"v":537},{"s":17,"u":1012,"v":274},{"s":17,"u":1012,"v":591},{"s":18,"u":1056,"v":325},{"s":18,"u":1056,"v":642},{"s":19,"u":1100,"v":376},{"s":19,"u":1100,"v":693},
{"s":20,"u":401,"v":840},{"s":20,"u":1099,"v":690},{"s":21,"u":354,"v":785},{"s":21,"u":1052,"v":635},{"s":22,"u":308,"v":731},{"s":22,"u":1006,"v":581},{"s":23,"u":261,"v":676},{"s":23,"u":959,"v":526},{"s":24,"u":215,"v":621},{"s":24,"u":913,"v":471},{"s":25,"u":169,"v":566},{"s":25,"u":867,"v":416},{"s":26,"u":122,"v":512},{"s":26,"u":820,"v":362},
{"s":27,"u":587,"v":865},{"s":27,"u":248,"v":465},{"s":28,"u":726,"v":835},{"s":28,"u":388,"v":436},{"s":29,"u":866,"v":805},{"s":29,"u":527,"v":407},{"s":30,"u":1005,"v":775},{"s":30,"u":665,"v":378}
]},"mark":{"type":"line","color":"#333","strokeWidth":1},"encoding":{"detail":{"field":"s"}}},
{"data":{"values":[
{"s":1,"u":108,"v":182},{"s":1,"u":805,"v":33},{"s":2,"u":805,"v":33},{"s":2,"u":1145,"v":428},{"s":3,"u":1145,"v":428},{"s":3,"u":1145,"v":745},{"s":4,"u":108,"v":182},{"s":4,"u":108,"v":495},{"s":5,"u":108,"v":495},{"s":5,"u":447,"v":895},{"s":6,"u":447,"v":895},{"s":6,"u":1145,"v":745},{"s":7,"u":108,"v":495},{"s":7,"u":805,"v":350},{"s":8,"u":805,"v":350},{"s":8,"u":1145,"v":745},{"s":9,"u":805,"v":33},{"s":9,"u":805,"v":350}
]},"mark":{"type":"line","color":"#111","strokeWidth":1.6},"encoding":{"detail":{"field":"s"}}},
{"data":{"values":[
{"p":"C0","i":0,"z":1.15,"u":730,"v":375},{"p":"C0","i":1,"z":1.15,"u":775,"v":363},{"p":"C0","i":2,"z":1.15,"u":890,"v":490},{"p":"C0","i":3,"z":1.15,"u":950,"v":520},{"p":"C0","i":4,"z":1.15,"u":1040,"v":540},{"p":"C0","i":5,"z":1.15,"u":1100,"v":578},{"p":"C0","i":6,"z":1.15,"u":860,"v":630},{"p":"C0","i":7,"z":1.15,"u":850,"v":500},
{"p":"C1","i":0,"z":0.95,"u":730,"v":375},{"p":"C1","i":1,"z":0.95,"u":775,"v":363},{"p":"C1","i":2,"z":0.95,"u":890,"v":490},{"p":"C1","i":3,"z":0.95,"u":950,"v":520},{"p":"C1","i":4,"z":0.95,"u":1040,"v":540},{"p":"C1","i":5,"z":0.95,"u":855,"v":590},
{"p":"C2","i":0,"z":0.62,"u":730,"v":375},{"p":"C2","i":1,"z":0.62,"u":775,"v":363},{"p":"C2","i":2,"z":0.62,"u":890,"v":490},{"p":"C2","i":3,"z":0.62,"u":950,"v":520},{"p":"C2","i":4,"z":0.62,"u":1000,"v":532},{"p":"C2","i":5,"z":0.62,"u":855,"v":560},
{"p":"C3","i":0,"z":0.42,"u":730,"v":375},{"p":"C3","i":1,"z":0.42,"u":775,"v":363},{"p":"C3","i":2,"z":0.42,"u":890,"v":490},{"p":"C3","i":3,"z":0.42,"u":960,"v":525},{"p":"C3","i":4,"z":0.42,"u":855,"v":530},
{"p":"C4","i":0,"z":0.26,"u":730,"v":375},{"p":"C4","i":1,"z":0.26,"u":775,"v":363},{"p":"C4","i":2,"z":0.26,"u":890,"v":490},{"p":"C4","i":3,"z":0.26,"u":855,"v":510},
{"p":"B","i":0,"z":1.65,"u":168,"v":405},{"p":"B","i":1,"z":1.65,"u":340,"v":378},{"p":"B","i":2,"z":1.65,"u":370,"v":360},{"p":"B","i":3,"z":1.65,"u":400,"v":300},{"p":"B","i":4,"z":1.65,"u":440,"v":225},{"p":"B","i":5,"z":1.65,"u":472,"v":225},{"p":"B","i":6,"z":1.65,"u":800,"v":590},{"p":"B","i":7,"z":1.65,"u":490,"v":660},
{"p":"E1","i":0,"z":1.5,"u":168,"v":405},{"p":"E1","i":1,"z":1.5,"u":340,"v":378},{"p":"E1","i":2,"z":1.5,"u":370,"v":360},{"p":"E1","i":3,"z":1.5,"u":400,"v":300},{"p":"E1","i":4,"z":1.5,"u":437,"v":230},{"p":"E1","i":5,"z":1.5,"u":570,"v":385},{"p":"E1","i":6,"z":1.5,"u":735,"v":560},{"p":"E1","i":7,"z":1.5,"u":720,"v":590},{"p":"E1","i":8,"z":1.5,"u":460,"v":636},
{"p":"E2","i":0,"z":1.35,"u":168,"v":405},{"p":"E2","i":1,"z":1.35,"u":340,"v":378},{"p":"E2","i":2,"z":1.35,"u":370,"v":360},{"p":"E2","i":3,"z":1.35,"u":400,"v":300},{"p":"E2","i":4,"z":1.35,"u":425,"v":255},{"p":"E2","i":5,"z":1.35,"u":560,"v":400},{"p":"E2","i":6,"z":1.35,"u":700,"v":535},{"p":"E2","i":7,"z":1.35,"u":690,"v":565},{"p":"E2","i":8,"z":1.35,"u":430,"v":612},
{"p":"E3","i":0,"z":1.2,"u":168,"v":405},{"p":"E3","i":1,"z":1.2,"u":340,"v":378},{"p":"E3","i":2,"z":1.2,"u":370,"v":360},{"p":"E3","i":3,"z":1.2,"u":400,"v":300},{"p":"E3","i":4,"z":1.2,"u":415,"v":275},{"p":"E3","i":5,"z":1.2,"u":540,"v":410},{"p":"E3","i":6,"z":1.2,"u":650,"v":515},{"p":"E3","i":7,"z":1.2,"u":620,"v":540},{"p":"E3","i":8,"z":1.2,"u":385,"v":577},
{"p":"E4","i":0,"z":1.12,"u":168,"v":405},{"p":"E4","i":1,"z":1.12,"u":340,"v":378},{"p":"E4","i":2,"z":1.12,"u":370,"v":360},{"p":"E4","i":3,"z":1.12,"u":400,"v":300},{"p":"E4","i":4,"z":1.12,"u":530,"v":440},{"p":"E4","i":5,"z":1.12,"u":590,"v":495},{"p":"E4","i":6,"z":1.12,"u":560,"v":510},{"p":"E4","i":7,"z":1.12,"u":345,"v":545},
{"p":"E5","i":0,"z":1.03,"u":168,"v":405},{"p":"E5","i":1,"z":1.03,"u":340,"v":378},{"p":"E5","i":2,"z":1.03,"u":370,"v":360},{"p":"E5","i":3,"z":1.03,"u":390,"v":325},{"p":"E5","i":4,"z":1.03,"u":520,"v":470},{"p":"E5","i":5,"z":1.03,"u":480,"v":490},{"p":"E5","i":6,"z":1.03,"u":300,"v":510},
{"p":"E6","i":0,"z":0.95,"u":168,"v":405},{"p":"E6","i":1,"z":0.95,"u":340,"v":378},{"p":"E6","i":2,"z":0.95,"u":370,"v":360},{"p":"E6","i":3,"z":0.95,"u":470,"v":450},{"p":"E6","i":4,"z":0.95,"u":250,"v":470},
{"p":"E7","i":0,"z":0.85,"u":168,"v":405},{"p":"E7","i":1,"z":0.85,"u":340,"v":378},{"p":"E7","i":2,"z":0.85,"u":355,"v":370},{"p":"E7","i":3,"z":0.85,"u":430,"v":430},{"p":"E7","i":4,"z":0.85,"u":215,"v":442},
{"p":"E8","i":0,"z":0.62,"u":300,"v":385},{"p":"E8","i":1,"z":0.62,"u":340,"v":378},{"p":"E8","i":2,"z":0.62,"u":395,"v":420},{"p":"E8","i":3,"z":0.62,"u":300,"v":410},
{"p":"R","i":0,"z":2.1,"u":478,"v":165},{"p":"R","i":1,"z":2.1,"u":620,"v":280},{"p":"R","i":2,"z":2.1,"u":730,"v":375},{"p":"R","i":3,"z":2.1,"u":850,"v":505},{"p":"R","i":4,"z":2.1,"u":805,"v":515}
]},"mark":{"type":"line","strokeWidth":0},"encoding":{"order":{"field":"i"},"detail":{"field":"p"},"fill":{"field":"z","type":"quantitative","scale":{"domain":[0.223,0.6,1.2,1.65,2.05,2.137],"range":["#0000ff","#00ffff","#00ff00","#ffff00","#ff0000","#ff0000"]},"legend":{"type":"gradient","direction":"horizontal","orient":"none","legendX":215,"legendY":275,"title":null,"gradientLength":165,"gradientThickness":16,"gradientStrokeColor":"#444","gradientStrokeWidth":1,"values":[0.25,0.6,0.95,1.3,1.65,2.0],"format":".2f","labelFontWeight":"normal","labelFontSize":10.5,"labelColor":"#333","padding":0}}}},
{"data":{"values":[
{"p":"s1","i":0,"f":0.9,"u":472,"v":225},{"p":"s1","i":1,"f":0.9,"u":475,"v":210},{"p":"s1","i":2,"f":0.9,"u":801,"v":571},{"p":"s1","i":3,"f":0.9,"u":800,"v":590},
{"p":"s2","i":0,"f":1.4,"u":475,"v":210},{"p":"s2","i":1,"f":1.4,"u":475,"v":195},{"p":"s2","i":2,"f":1.4,"u":802,"v":552},{"p":"s2","i":3,"f":1.4,"u":801,"v":571},
{"p":"s3","i":0,"f":2,"u":475,"v":195},{"p":"s3","i":1,"f":2,"u":477,"v":180},{"p":"s3","i":2,"f":2,"u":804,"v":534},{"p":"s3","i":3,"f":2,"u":802,"v":552},
{"p":"s4","i":0,"f":2.6,"u":477,"v":180},{"p":"s4","i":1,"f":2.6,"u":478,"v":165},{"p":"s4","i":2,"f":2.6,"u":805,"v":515},{"p":"s4","i":3,"f":2.6,"u":804,"v":534},
{"p":"c1","i":0,"f":2.4,"u":805,"v":515},{"p":"c1","i":1,"f":2.4,"u":850,"v":505},{"p":"c1","i":2,"f":2.4,"u":852,"v":535},{"p":"c1","i":3,"f":2.4,"u":805,"v":535},
{"p":"c2","i":0,"f":1.5,"u":805,"v":535},{"p":"c2","i":1,"f":1.5,"u":852,"v":535},{"p":"c2","i":2,"f":1.5,"u":854,"v":565},{"p":"c2","i":3,"f":1.5,"u":804,"v":560},
{"p":"c3","i":0,"f":0.8,"u":804,"v":560},{"p":"c3","i":1,"f":0.8,"u":854,"v":565},{"p":"c3","i":2,"f":0.8,"u":855,"v":600},{"p":"c3","i":3,"f":0.8,"u":803,"v":575},
{"p":"c4","i":0,"f":0.1,"u":803,"v":575},{"p":"c4","i":1,"f":0.1,"u":855,"v":600},{"p":"c4","i":2,"f":0.1,"u":857,"v":630},{"p":"c4","i":3,"f":0.1,"u":803,"v":590}
]},"mark":{"type":"line","strokeWidth":0},"encoding":{"order":{"field":"i"},"detail":{"field":"p"},"fill":{"field":"f","type":"quantitative","legend":null,"scale":{"domain":[0,1,2,3],"range":["#40d030","#a8a830","#c87020","#f01808"]}}}},
{"data":{"values":[{"u":75,"v":445,"t":"0.5"},{"u":88,"v":370,"t":"1"},{"u":75,"v":295,"t":"1.5"},{"u":88,"v":220,"t":"2"},{"u":98,"v":545,"t":"350"},{"u":143,"v":597,"t":"300"},{"u":188,"v":648,"t":"250"},{"u":233,"v":700,"t":"200"},{"u":277,"v":752,"t":"150"},{"u":322,"v":803,"t":"100"},{"u":375,"v":855,"t":"50"},{"u":428,"v":907,"t":"0"},{"u":458,"v":912,"t":"0"},{"u":610,"v":880,"t":"0.2"},{"u":750,"v":852,"t":"0.4"},{"u":888,"v":820,"t":"0.6"},{"u":1028,"v":790,"t":"0.8"},{"u":1155,"v":760,"t":"1"}]},"mark":{"type":"text","font":"Liberation Sans","fontSize":10.5,"color":"#333"},"encoding":{"text":{"field":"t"}}},
{"data":{"values":[{"u":622,"v":817,"t":"Anode"},{"u":802,"v":775,"t":"Sep."},{"u":1010,"v":738,"t":"Cathode"}]},"mark":{"type":"text","font":"Liberation Sans","fontWeight":"bold","fontSize":8.5,"color":"#222","angle":345},"encoding":{"text":{"field":"t"}}},
{"data":{"values":[{"u":160,"v":730,"t":"time (s)"}]},"mark":{"type":"text","font":"Liberation Serif","fontWeight":"bold","fontStyle":"italic","fontSize":13,"color":"#111","angle":50},"encoding":{"text":{"field":"t"}}},
{"data":{"values":[{"u":835,"v":880,"t":"x/L"}]},"mark":{"type":"text","font":"Liberation Serif","fontWeight":"bold","fontStyle":"italic","fontSize":14,"color":"#111","angle":345},"encoding":{"text":{"field":"t"}}},
{"data":{"values":[{"u":22,"v":372,"t":"K"}]},"mark":{"type":"text","font":"Liberation Serif","fontSize":12,"color":"#111","angle":270},"encoding":{"text":{"field":"t"}}},
{"data":{"values":[{"u":12,"v":345,"t":"eq"}]},"mark":{"type":"text","font":"Liberation Serif","fontSize":8,"color":"#111","angle":270},"encoding":{"text":{"field":"t"}}},
{"data":{"values":[{"u":55,"v":70,"t":"e)"}]},"mark":{"type":"text","font":"Liberation Serif","fontSize":13,"color":"#222"},"encoding":{"text":{"field":"t"}}}
]}
],"bounds":"flush","spacing":0}
]}
